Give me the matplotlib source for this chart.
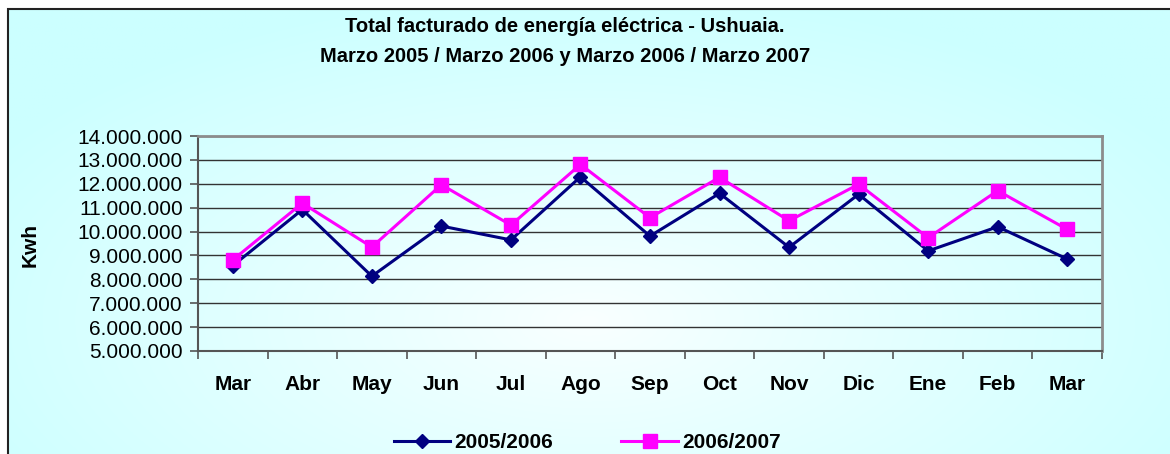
import numpy as np
import matplotlib.pyplot as plt
from matplotlib.patches import Rectangle
from matplotlib.lines import Line2D
from matplotlib.ticker import FuncFormatter, FixedLocator

plt.rcParams["font.family"] = ["Liberation Sans", "DejaVu Sans"]

# Datos (Kwh facturados por mes)
MESES = ["Mar", "Abr", "May", "Jun", "Jul", "Ago", "Sep", "Oct", "Nov", "Dic", "Ene", "Feb", "Mar"]
KWH_2005_2006 = [8570000, 10920000, 8130000, 10230000, 9650000, 12290000, 9810000,
                 11600000, 9340000, 11560000, 9190000, 10200000, 8850000]
KWH_2006_2007 = [8810000, 11190000, 9350000, 11960000, 10270000, 12810000, 10580000,
                 12270000, 10450000, 11980000, 9740000, 11710000, 10090000]
SERIES = ["2005/2006", "2006/2007"]
Y_TICKS = list(range(5000000, 14000001, 1000000))

W, H = 1170, 454


def fondo_gradiente(fig):
    # light cyan at the edges, almost white towards the lower centre
    bg = fig.add_axes([8 / W, 0, 1 - 8 / W, 1 - 9 / H], zorder=0)
    bg.axis("off")
    yy, xx = np.mgrid[0:1:300j, 0:1:800j]
    d = np.sqrt(((xx - 0.5) / 0.6) ** 2 + ((yy - 0.3) / 0.75) ** 2)
    t = np.clip(d, 0, 1) ** 0.9
    cyan = np.array([0.80, 1.0, 1.0])
    white = np.array([0.98, 1.0, 1.0])
    img = white + (cyan - white) * t[..., None]
    bg.imshow(img, origin="lower", aspect="auto", extent=[0, 1, 0, 1])


def plot_facturacion(output_path="out.png"):
    fig = plt.figure(figsize=(W / 100, H / 100), dpi=100, facecolor="white")
    fondo_gradiente(fig)

    # outer frame (right and bottom edges are cut off in the original)
    fig.add_artist(Rectangle((8 / W, -0.1), 1.2, 1 - 9 / H + 0.1, transform=fig.transFigure,
                             fill=False, edgecolor="#222222", linewidth=1.5, clip_on=False, zorder=5))

    ax = fig.add_axes([198 / W, 1 - 351 / H, 904 / W, 215 / H], zorder=2)
    ax.set_facecolor("none")

    x = np.arange(len(MESES))
    ax.plot(x, KWH_2005_2006, color="#000080", linewidth=2.2, marker="D",
            markersize=7.2, label=SERIES[0], zorder=3)
    ax.plot(x, KWH_2006_2007, color="#FF00FF", linewidth=2.2, marker="s",
            markersize=10, label=SERIES[1], zorder=3)

    ax.set_xlim(-0.5, len(MESES) - 0.5)
    ax.set_ylim(Y_TICKS[0], Y_TICKS[-1])

    ax.yaxis.set_major_locator(FixedLocator(Y_TICKS))
    ax.yaxis.set_major_formatter(FuncFormatter(lambda v, p: f"{int(v):,}".replace(",", ".")))
    ax.tick_params(axis="y", direction="out", length=6, width=1.2, color="#555555",
                   labelsize=15, pad=5)

    ax.set_xticks(x)
    ax.set_xticklabels(MESES, fontweight="bold", fontsize=15)
    ax.xaxis.set_minor_locator(FixedLocator(np.arange(-0.5, len(MESES), 1.0)))
    ax.tick_params(axis="x", which="major", length=0, pad=17)
    ax.tick_params(axis="x", which="minor", direction="out", length=6, width=1.2, color="#555555")

    ax.grid(True, axis="y", color="#333333", linewidth=1.0)
    ax.set_axisbelow(True)
    for side in ["top", "right"]:
        ax.spines[side].set_color("#8c8c8c")
        ax.spines[side].set_linewidth(2)
    for side in ["left", "bottom"]:
        ax.spines[side].set_color("#555555")
        ax.spines[side].set_linewidth(1.5)

    fig.text(30 / W, 1 - 245 / H, "Kwh", rotation=90, ha="center", va="center",
             fontsize=15, fontweight="bold")

    fig.text(565 / W, 1 - 26 / H, "Total facturado de energía eléctrica - Ushuaia.",
             ha="center", va="center", fontsize=14.5, fontweight="bold")
    fig.text(565 / W, 1 - 57 / H, "Marzo 2005 / Marzo 2006 y Marzo 2006 / Marzo 2007",
             ha="center", va="center", fontsize=14.5, fontweight="bold")

    handles = [
        Line2D([], [], color="#000080", linewidth=2.2, marker="D", markersize=7.2),
        Line2D([], [], color="#FF00FF", linewidth=2.2, marker="s", markersize=10),
    ]
    fig.legend(handles, SERIES, loc="center", bbox_to_anchor=(587 / W, 1 - 443 / H), ncol=2,
               frameon=False, handlelength=2.7, handletextpad=0.2, columnspacing=3.3,
               prop={"weight": "bold", "size": 15})

    fig.savefig(output_path, dpi=100, facecolor="white")
    plt.close(fig)


if __name__ == "__main__":
    plot_facturacion("out.png")
